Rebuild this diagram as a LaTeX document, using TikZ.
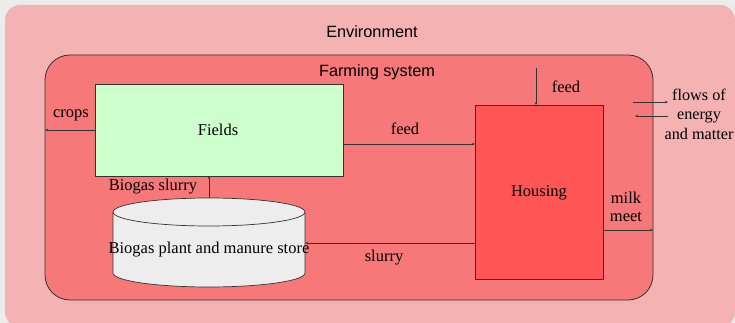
\documentclass[tikz,border=0pt]{standalone}
\usepackage{fontspec}
\setmainfont{Liberation Serif}
\newfontfamily\labelsans{Liberation Sans}
\usetikzlibrary{arrows.meta}
\definecolor{bggrey}{HTML}{ECECEC}
\definecolor{envred}{HTML}{F4B2B2}
\definecolor{farmred}{HTML}{F67878}
\definecolor{fieldgreen}{HTML}{CCFFCC}
\definecolor{houseRed}{HTML}{FF5555}
\definecolor{plantgrey}{HTML}{EDEDED}
\definecolor{linegrey}{HTML}{333333}
\begin{document}
\begin{tikzpicture}[x=1pt,y=-1pt,
  region/.style={anchor=north west, inner sep=0, outer sep=0},
  box/.style={draw=linegrey, line width=0.7pt, inner sep=0, outer sep=0},
  flow/.style={draw=linegrey, line width=0.5pt, -{Stealth[length=3pt,width=2.5pt]}},
  lbl/.style={font=\fontsize{16.5}{19}\selectfont, inner sep=0},
  ttl/.style={font=\labelsans\fontsize{16.3}{19}\selectfont, inner sep=0}]
\fill[bggrey] (0,0) rectangle (735,323);
\useasboundingbox (0,0) rectangle (735,323);
% regions
\node (env) [region, fill=envred, rounded corners=15pt, minimum width=730pt, minimum height=322pt] at (5,5) {};
\node (farm) [region, fill=farmred, draw=linegrey, line width=0.8pt, rounded corners=25pt, minimum width=608pt, minimum height=245pt] at (45,55) {};
\node (envtxt) [ttl] at (372,32) {Environment};
\node (farmtxt) [ttl] at (377,72) {Farming system};
% boxes
\node (fields) [box, fill=fieldgreen, minimum width=248pt, minimum height=92pt] at (219,130) {};
\node (fieldstxt) [lbl] at (218,130) {Fields};
\node (housing) [box, fill=houseRed, minimum width=128pt, minimum height=174pt] at (539,192) {};
\node (housingtxt) [lbl] at (539,193) {Housing};
% cylinder
\path[draw=linegrey, line width=0.7pt, fill=plantgrey]
  (113,212) -- (113,273) arc[start angle=180, end angle=0, x radius=96, y radius=14]
  -- (305,212) arc[start angle=0, end angle=-180, x radius=96, y radius=14] -- cycle;
\draw[linegrey, line width=0.7pt] (113,212) arc[start angle=180, end angle=0, x radius=96, y radius=14];
\node (plant) [lbl] at (209,250) {Biogas plant and manure store};
\coordinate (cyltop) at (209,198);
\coordinate (cylright) at (305,243);
% connectors
\draw[flow] (fields.west) -- (fields.west -| farm.west);
\node (cropstxt) [lbl] at (71,115) {crops};
\coordinate (feedA) at ([yshift=-14pt]fields.east);
\draw[flow] (feedA) -- (feedA -| housing.west);
\node (feedtxt) [lbl] at (405,129) {feed};
\coordinate (feedtop) at (536,68);
\draw[flow] (feedtop) -- (feedtop |- housing.north);
\node (feedtoptxt) [lbl] at (566,87) {feed};
\draw[flow] (cyltop) -- (cyltop |- fields.south);
\node (bslurrytxt) [lbl] at (153,187) {Biogas slurry};
\coordinate (slurryA) at ([yshift=-51pt]housing.west);
\draw[flow] (slurryA) -- (slurryA -| cylright);
\node (slurrytxt) [lbl] at (384,258) {slurry};
\coordinate (milkA) at ([yshift=-38pt]housing.east);
\draw[flow] (milkA) -- (milkA -| farm.east);
\node (milktxt) [lbl, align=center] at (626,207) {milk\\[-1pt]meet};
\coordinate (flowOutA) at (633,102);
\coordinate (flowOutB) at (668,102);
\coordinate (flowInA) at (668,116);
\coordinate (flowInB) at (635,116);
\draw[flow] (flowOutA) -- (flowOutB);
\draw[flow] (flowInA) -- (flowInB);
\node (flowstxt) [lbl, align=center, font=\fontsize{16.2}{19.5}\selectfont] at (699,114) {flows of\\energy\\and matter};
\end{tikzpicture}
\end{document}
